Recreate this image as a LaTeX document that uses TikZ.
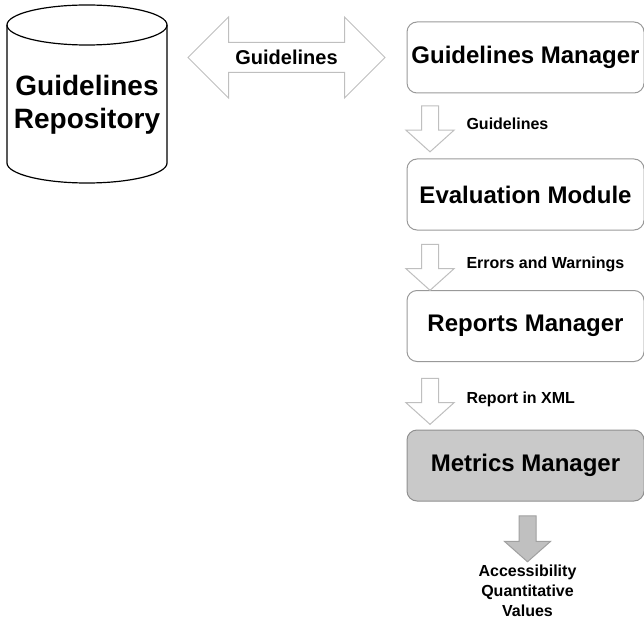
\documentclass[tikz,border=0pt]{standalone}
\usepackage{fontspec}
\setmainfont{Liberation Sans}
\usetikzlibrary{shapes.arrows}

\definecolor{metricfill}{RGB}{201,201,201}
\definecolor{metricline}{RGB}{144,144,144}
\definecolor{outfill}{RGB}{192,192,192}
\definecolor{outline}{RGB}{160,160,160}

\begin{document}
\begin{tikzpicture}[x=1pt, y=1pt,
  box/.style={draw=gray!80, line width=1pt, rounded corners=10pt, minimum width=237pt, minimum height=71pt, font=\bfseries\fontsize{24}{28}\selectfont},
  downarrow/.style={single arrow, draw=gray!50, fill=white, line width=1pt, shape border rotate=270, inner sep=8pt, minimum height=46pt, single arrow head extend=15.5pt, single arrow tip angle=96},
  lbl/.style={anchor=base west, font=\bfseries\fontsize{16}{20}\selectfont}]
\useasboundingbox (0,0) rectangle (644,-620);

% repository
\draw[line width=1.2pt] (7,-25) -- (7,-163) arc[start angle=180, end angle=360, x radius=80pt, y radius=20pt] -- (167,-25);
\draw[line width=1.2pt] (87,-25) ellipse[x radius=80pt, y radius=20pt];
\node[align=center, font=\bfseries\fontsize{28}{33}\selectfont] (repo) at (87,-105) {Guidelines\\Repository};

\node[double arrow, draw=gray!50, line width=1pt, inner sep=14.5pt, minimum height=197pt, double arrow head extend=25.5pt, double arrow tip angle=90] (gl) at (286.5,-57.5) {};
\node[font=\bfseries\fontsize{20}{24}\selectfont] (gltext) at (gl.center) {Guidelines};

% modules
\node[box] (gm) at (525.5,-57.5) {Guidelines Manager};
\node[box] (em) at (525.5,-194.5) {Evaluation Module};
\node[box] (rm) at (525.5,-326) {Reports Manager};
\node[box, fill=metricfill, draw=metricline] (mm) at (525.5,-465.5) {Metrics Manager};

\node[downarrow] (a1) at (430,-125) {};
\node[downarrow] (a2) at (430,-263.5) {};
\node[downarrow] (a3) at (430,-397.5) {};
\node[downarrow, fill=outfill, draw=outline, single arrow head extend=14.5pt, single arrow tip angle=97] (a4) at (527.5,-535) {};

\node[lbl] (l1) at (463,-130) {Guidelines};
\node[lbl] (l2) at (463,-268) {Errors and Warnings};
\node[lbl] (l3) at (463,-403) {Report in XML};
\node[align=center, font=\bfseries\fontsize{16}{20}\selectfont] (acc) at (527.5,-591) {Accessibility\\Quantitative\\Values};
\end{tikzpicture}
\end{document}
